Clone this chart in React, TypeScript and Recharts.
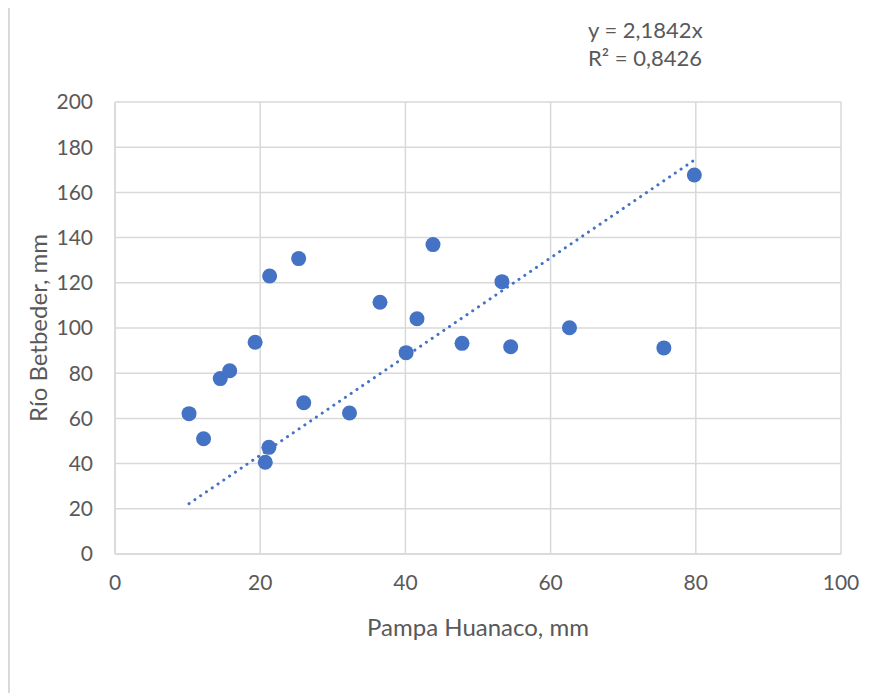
import { ScatterChart, Scatter, XAxis, YAxis, CartesianGrid } from 'recharts';

// Monthly rainfall pairs: Pampa Huanaco (x) vs Río Betbeder (y), mm
const pampaHuanaco = [10.2, 12.2, 14.5, 15.8, 19.3, 21.3, 25.3, 21.2, 20.7, 26.0, 32.3, 36.5, 40.1, 41.6, 43.8, 47.8, 53.3, 54.5, 62.6, 75.6, 79.8];
const rioBetbeder = [62.1, 51.0, 77.6, 81.1, 93.7, 123.0, 130.7, 47.2, 40.6, 66.9, 62.4, 111.4, 89.1, 104.1, 136.9, 93.2, 120.5, 91.7, 100.1, 91.2, 167.7];

const xTicks = [0, 20, 40, 60, 80, 100];
const yTicks = [0, 20, 40, 60, 80, 100, 120, 140, 160, 180, 200];

// linear fit through the origin
const slope = 2.1842;
const rSquared = 0.8426;

const points = pampaHuanaco.map((x, i) => ({ x, y: rioBetbeder[i] }));
const xMin = Math.min(...pampaHuanaco);
const xMax = Math.max(...pampaHuanaco);
const trend = [
  { x: xMin, y: slope * xMin },
  { x: xMax, y: slope * xMax },
];

const FONT = 'Lato, "Noto Sans", sans-serif';
const TEXT = '#595959';
const GRID = '#D9D9D9';
const BLUE = '#4472C4';

const fmt = (v: number, d: number) => v.toFixed(d).replace('.', ',');

const Dot = (props: any) => <circle cx={props.cx} cy={props.cy} r={7.5} fill={BLUE} />;

const XTitle = ({ viewBox }: any) => (
  <text
    x={viewBox.x + viewBox.width / 2}
    y={viewBox.y + 72}
    textAnchor="middle"
    dominantBaseline="central"
    fill={TEXT}
    fontSize={24}
    fontFamily={FONT}
  >
    Pampa Huanaco, mm
  </text>
);

const YTitle = ({ viewBox }: any) => {
  const cx = viewBox.x + 19;
  const cy = viewBox.y + viewBox.height / 2;
  return (
    <text
      x={cx}
      y={cy}
      transform={`rotate(-90, ${cx}, ${cy})`}
      textAnchor="middle"
      dominantBaseline="central"
      fill={TEXT}
      fontSize={24}
      fontFamily={FONT}
    >
      Río Betbeder, mm
    </text>
  );
};

export default function App() {
  return (
    <div
      style={{
        position: 'relative',
        width: 858,
        height: 688,
        marginTop: -3,
        boxShadow: `inset 2px 2px 0 ${GRID}`,
        background: '#fff',
      }}
    >
      <div
        style={{
          position: 'absolute',
          left: 580,
          top: 11,
          fontFamily: FONT,
          fontSize: 22,
          lineHeight: '28px',
          color: TEXT,
        }}
      >
        <div>y = {fmt(slope, 4)}x</div>
        <div>R² = {fmt(rSquared, 4)}</div>
      </div>
      <ScatterChart width={858} height={688} margin={{ top: 97, right: 25, bottom: 79, left: 10 }}>
        <CartesianGrid stroke={GRID} strokeWidth={1.5} />
        <XAxis
          type="number"
          dataKey="x"
          domain={[0, 100]}
          ticks={xTicks}
          height={60}
          axisLine={{ stroke: GRID, strokeWidth: 1.5 }}
          tickLine={false}
          tickSize={0}
          tickMargin={21}
          tick={{ fill: TEXT, fontSize: 21, fontFamily: FONT }}
          label={<XTitle />}
        />
        <YAxis
          type="number"
          dataKey="y"
          domain={[0, 200]}
          ticks={yTicks}
          width={97}
          axisLine={{ stroke: GRID, strokeWidth: 1.5 }}
          tickLine={false}
          tickSize={0}
          tickMargin={22}
          tick={{ fill: TEXT, fontSize: 21, fontFamily: FONT }}
          label={<YTitle />}
        />
        <Scatter data={points} shape={<Dot />} isAnimationActive={false} />
        <Scatter
          data={trend}
          line={{ stroke: BLUE, strokeWidth: 3, strokeDasharray: '0.1 6.9', strokeLinecap: 'round' }}
          lineType="joint"
          shape={() => null}
          isAnimationActive={false}
        />
      </ScatterChart>
    </div>
  );
}
